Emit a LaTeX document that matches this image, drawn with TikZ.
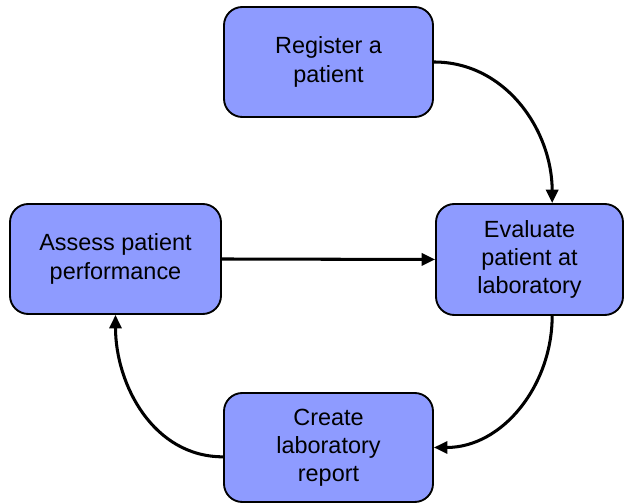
\documentclass[tikz,border=0pt]{standalone}
\usepackage{fontspec}
\setmainfont{Liberation Sans}
\usepackage{xcolor}
\usetikzlibrary{arrows.meta}
\definecolor{boxblue}{RGB}{142,155,255}

\tikzset{
  stepbox/.style={draw=black, line width=1.6pt, fill=boxblue, rounded corners=0.55cm,
    align=center, inner sep=0pt, font=\fontsize{20pt}{24pt}\selectfont},
  flow/.style={line width=2.6pt, -{Triangle[length=0.4cm,width=0.36cm]}}
}

\begin{document}
\begin{tikzpicture}[x=0.03cm, y=0.03cm]
        \useasboundingbox (0,0) rectangle (633,504);

        % Riquadri
        \node[stepbox, minimum width=6.27cm, minimum height=3.3cm] (reg) at (328.5,442) {Register a\\patient};
        \node[stepbox, minimum width=5.61cm, minimum height=3.33cm] (eval) at (529.5,244.5) {Evaluate\\patient at\\laboratory};
        \node[stepbox, minimum width=6.33cm, minimum height=3.3cm] (assess) at (115.5,245) {Assess patient\\performance};
        \node[stepbox, minimum width=6.27cm, minimum height=3.27cm] (report) at (328.5,56.5) {Create\\laboratory\\report};

        % Frecce
        \draw[flow] (reg.east) to[out=0, in=90] ([xshift=0.68cm]eval.north);
        \draw[flow] (assess.east) -- (eval.west);
        \draw[flow] ([xshift=0.68cm]eval.south) to[out=-90, in=0] (report.east);
        \draw[flow] ([yshift=-0.28cm]report.west) to[out=180, in=-90] (assess.south);
    \end{tikzpicture}
\end{document}
